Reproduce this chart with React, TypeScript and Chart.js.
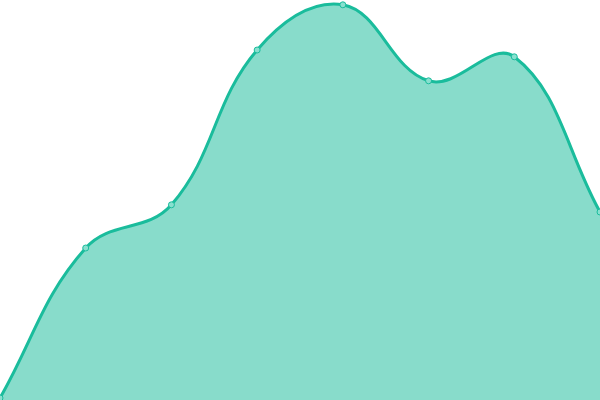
import React, { useEffect, useRef } from 'react';
import { Chart, registerables } from 'chart.js';

Chart.register(...registerables);

const labels = ['1', '2', '3', '4', '5', '6', '7', '8'];
const values = [0.5, 38, 48.8, 87.5, 98.8, 79.8, 85.8, 47];

export default function App() {
  const canvasRef = useRef<HTMLCanvasElement>(null);

  useEffect(() => {
    document.body.style.margin = '0';
    let chart: Chart | null = null;
    if (canvasRef.current) {
      chart = new Chart(canvasRef.current, {
        type: 'line',
        data: {
          labels,
          datasets: [{
            data: values,
            borderColor: '#1abc9c',
            backgroundColor: 'rgba(26,188,156,0.52)',
            borderWidth: 3,
            fill: 'origin',
            tension: 0.4,
            pointRadius: 3,
            pointBorderWidth: 1,
            pointBackgroundColor: 'rgba(136,224,207,1)',
            pointBorderColor: '#1abc9c',
          }]
        },
        options: {
          animation: false,
          responsive: false,
          layout: { padding: 0, autoPadding: false },
          plugins: { legend: { display: false }, tooltip: { enabled: false } },
          scales: {
            x: { display: false, offset: false },
            y: { display: false, min: 0, max: 100 }
          }
        }
      });
    }
    return () => { if (chart) chart.destroy(); };
  }, []);

  return (
    <div style={{ position: 'fixed', left: 0, top: 0, width: 600, height: 400 }}>
      <canvas ref={canvasRef} width={600} height={400} style={{ width: 600, height: 400 }}></canvas>
    </div>
  );
}
